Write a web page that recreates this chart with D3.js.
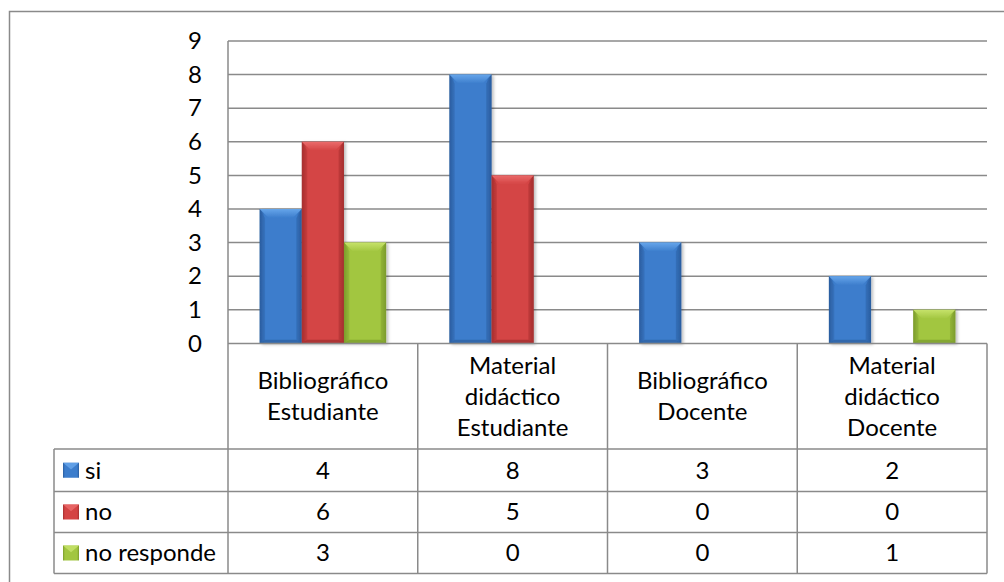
<!DOCTYPE html>
<html>
<head>
<meta charset="utf-8">
<script src="https://cdn.jsdelivr.net/npm/d3@7"></script>
<style>
  html, body { margin: 0; padding: 0; background: #fff; }
  svg { display: block; }
  text { font-family: Lato, "Open Sans", "Liberation Sans", sans-serif; fill: #000; }
</style>
</head>
<body>
<svg id="chart" width="1004" height="582"></svg>
<script>
// Categories (table header lines) and series values
const categories = [
  ["Bibliográfico", "Estudiante"],
  ["Material", "didáctico", "Estudiante"],
  ["Bibliográfico", "Docente"],
  ["Material", "didáctico", "Docente"]
];
const seriesNames = ["si", "no", "no responde"];
const siValues = [4, 8, 3, 2];
const noValues = [6, 5, 0, 0];
const noRespondeValues = [3, 0, 0, 1];
const yTicks = [0, 1, 2, 3, 4, 5, 6, 7, 8, 9];

const seriesValues = [siValues, noValues, noRespondeValues];

// Bar palette: main face, darker edge, lighter top bevel
const palette = [
  { face: "#3c7dcc", edge: "#2a5d9f", top: "#66a5ea", bottom: "#2c5f9e" },
  { face: "#d44444", edge: "#a52f2f", top: "#ea6a6a", bottom: "#9e2e2e" },
  { face: "#a2c640", edge: "#7c9c2c", top: "#c6e26a", bottom: "#789a2a" }
];

const FONT_SIZE = 24;
const svg = d3.select("#chart");
const defs = svg.append("defs");
const gridColor = "#8a8a8a";

const plot = { left: 228, right: 987, top: 41, bottom: 343.4 };
const table = { left: 54, headerBottom: 449, rows: [449, 491.5, 532.5, 573.5] };

const x = d3.scaleBand()
  .domain(d3.range(categories.length))
  .range([plot.left, plot.right])
  .padding(0);

const xs = d3.scaleBand()
  .domain(d3.range(seriesNames.length))
  .range([0, x.bandwidth()])
  .paddingInner(0)
  .paddingOuter(0.75);

const y = d3.scaleLinear().domain([0, 9]).range([plot.bottom, plot.top]);

// gradients per series
palette.forEach((p, i) => {
  const g = defs.append("linearGradient").attr("id", "face" + i)
    .attr("x1", "0").attr("x2", "1").attr("y1", "0").attr("y2", "0");
  g.append("stop").attr("offset", "0").attr("stop-color", p.edge);
  g.append("stop").attr("offset", "0.12").attr("stop-color", p.face);
  g.append("stop").attr("offset", "0.88").attr("stop-color", p.face);
  g.append("stop").attr("offset", "1").attr("stop-color", p.edge);
  const t = defs.append("linearGradient").attr("id", "top" + i)
    .attr("x1", "0").attr("x2", "0").attr("y1", "0").attr("y2", "1");
  t.append("stop").attr("offset", "0").attr("stop-color", p.top);
  t.append("stop").attr("offset", "1").attr("stop-color", p.face);
});

const shadow = defs.append("filter").attr("id", "shadow")
  .attr("x", "-20%").attr("y", "-10%").attr("width", "150%").attr("height", "130%");
shadow.append("feDropShadow").attr("dx", 2).attr("dy", 1).attr("stdDeviation", 1.5)
  .attr("flood-color", "#000").attr("flood-opacity", 0.25);

// outer frame
svg.append("rect")
  .attr("x", 9.5).attr("y", 11.5).attr("width", 1010).attr("height", 600)
  .attr("fill", "none").attr("stroke", gridColor).attr("stroke-width", 1.5);

// horizontal gridlines
svg.append("g").selectAll("line").data(yTicks.filter(d => d > 0)).join("line")
  .attr("x1", plot.left).attr("x2", plot.right)
  .attr("y1", d => y(d)).attr("y2", d => y(d))
  .attr("stroke", gridColor).attr("stroke-width", 1.5);

// y axis labels
const yAxis = d3.axisLeft(y).tickValues(yTicks).tickSize(0).tickPadding(26).tickFormat(d3.format("d"));
const yg = svg.append("g").attr("transform", `translate(${plot.left},0)`).call(yAxis);
yg.select(".domain").remove();
yg.selectAll("text").attr("font-size", FONT_SIZE).attr("font-family", "Lato, 'Open Sans', sans-serif").attr("fill", "#000");

// bars
const barData = [];
seriesValues.forEach((vals, s) => vals.forEach((v, c) => barData.push({ s, c, v })));

const bars = svg.append("g").selectAll("g.bar").data(barData.filter(d => d.v > 0)).join("g")
  .attr("class", "bar").attr("filter", "url(#shadow)");

bars.each(function (d) {
  const g = d3.select(this);
  const x0 = x(d.c) + xs(d.s), w = xs.bandwidth();
  const x1 = x0 + w;
  const y0 = y(d.v), y1 = y(0);
  const b = Math.min(9, (y1 - y0) / 2, w / 3);
  const p = palette[d.s];
  g.append("rect").attr("x", x0).attr("y", y0).attr("width", w).attr("height", y1 - y0)
    .attr("fill", `url(#face${d.s})`);
  // top bevel
  g.append("polygon")
    .attr("points", [[x0, y0], [x1, y0], [x1 - b, y0 + b], [x0 + b, y0 + b]].join(" "))
    .attr("fill", `url(#top${d.s})`);
  // side bevels
  g.append("polygon")
    .attr("points", [[x0, y0], [x0 + b * 0.6, y0 + b], [x0 + b * 0.6, y1 - b * 0.4], [x0, y1]].join(" "))
    .attr("fill", p.edge).attr("opacity", 0.35);
  g.append("polygon")
    .attr("points", [[x1, y0], [x1 - b * 0.6, y0 + b], [x1 - b * 0.6, y1 - b * 0.4], [x1, y1]].join(" "))
    .attr("fill", p.edge).attr("opacity", 0.45);
  // bottom bevel
  g.append("polygon")
    .attr("points", [[x0, y1], [x1, y1], [x1 - b * 0.6, y1 - b * 0.4], [x0 + b * 0.6, y1 - b * 0.4]].join(" "))
    .attr("fill", p.bottom).attr("opacity", 0.7);
});

// data table
const tg = svg.append("g").attr("stroke", gridColor).attr("stroke-width", 1.5);
// axis baseline / header top
tg.append("line").attr("x1", plot.left).attr("x2", plot.right).attr("y1", y(0)).attr("y2", y(0));
// vertical axis line
tg.append("line").attr("x1", plot.left).attr("x2", plot.left).attr("y1", plot.top).attr("y2", table.rows[3]);
// column dividers
tg.selectAll("line.col").data(d3.range(1, categories.length + 1)).join("line").attr("class", "col")
  .attr("x1", d => d === categories.length ? plot.right : x(d))
  .attr("x2", d => d === categories.length ? plot.right : x(d))
  .attr("y1", y(0)).attr("y2", table.rows[3]);
// row lines
tg.selectAll("line.row").data(table.rows).join("line").attr("class", "row")
  .attr("x1", table.left).attr("x2", plot.right).attr("y1", d => d).attr("y2", d => d);
// left edge of data rows
tg.append("line").attr("x1", table.left).attr("x2", table.left)
  .attr("y1", table.rows[0]).attr("y2", table.rows[3]);

// header labels
const lineH = 31;
const headerMid = (y(0) + table.headerBottom) / 2;
categories.forEach((lines, c) => {
  const t = svg.append("text")
    .attr("x", x(c) + x.bandwidth() / 2)
    .attr("text-anchor", "middle")
    .attr("font-size", FONT_SIZE);
  lines.forEach((ln, i) => {
    t.append("tspan")
      .attr("x", x(c) + x.bandwidth() / 2)
      .attr("y", headerMid + (i - (lines.length - 1) / 2) * lineH)
      .attr("dy", "0.35em")
      .text(ln);
  });
});

// table rows: legend key, name, values
seriesNames.forEach((name, s) => {
  const top = table.rows[s], bot = table.rows[s + 1];
  const mid = (top + bot) / 2;
  const kx = 63, kw = 16, kh = 15, ky = mid - kh / 2;
  const p = palette[s];
  svg.append("rect").attr("x", kx).attr("y", ky).attr("width", kw).attr("height", kh)
    .attr("fill", `url(#face${s})`);
  svg.append("polygon")
    .attr("points", [[kx, ky], [kx + kw, ky], [kx + kw / 2, ky + kh * 0.45]].join(" "))
    .attr("fill", p.top).attr("opacity", 0.85);
  svg.append("text").attr("x", 85).attr("y", mid).attr("dy", "0.35em")
    .attr("font-size", FONT_SIZE).text(name);
  seriesValues[s].forEach((v, c) => {
    svg.append("text")
      .attr("x", x(c) + x.bandwidth() / 2).attr("y", mid).attr("dy", "0.35em")
      .attr("text-anchor", "middle").attr("font-size", FONT_SIZE).text(v);
  });
});
</script>
</body>
</html>
